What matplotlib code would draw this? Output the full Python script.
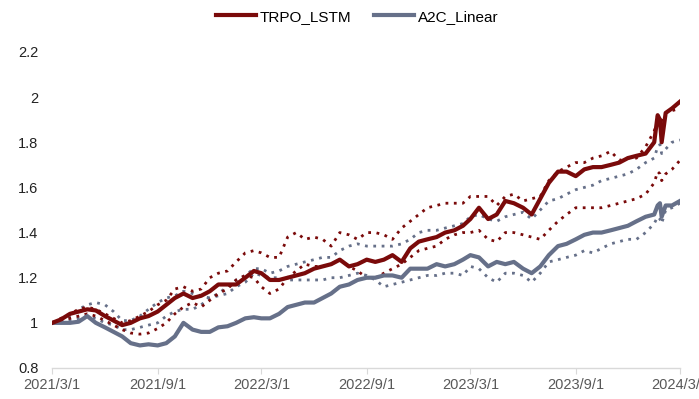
import matplotlib
matplotlib.use("Agg")
import matplotlib.pyplot as plt
import pandas as pd

# ---------------- data ----------------
dates = [
    "2021-03-01", "2021-03-16", "2021-04-01", "2021-04-16", "2021-05-01", "2021-05-16",
    "2021-06-01", "2021-06-16", "2021-07-01", "2021-07-16", "2021-08-01", "2021-08-16",
    "2021-09-01", "2021-09-16", "2021-10-01", "2021-10-16", "2021-11-01", "2021-11-16",
    "2021-12-01", "2021-12-16", "2022-01-01", "2022-01-16", "2022-02-01", "2022-02-16",
    "2022-03-01", "2022-03-16", "2022-04-01", "2022-04-16", "2022-05-01", "2022-05-16",
    "2022-06-01", "2022-06-16", "2022-07-01", "2022-07-16", "2022-08-01", "2022-08-16",
    "2022-09-01", "2022-09-16", "2022-10-01", "2022-10-16", "2022-11-01", "2022-11-16",
    "2022-12-01", "2022-12-16", "2023-01-01", "2023-01-16", "2023-02-01", "2023-02-16",
    "2023-03-01", "2023-03-16", "2023-04-01", "2023-04-16", "2023-05-01", "2023-05-16",
    "2023-06-01", "2023-06-16", "2023-07-01", "2023-07-16", "2023-08-01", "2023-08-16",
    "2023-09-01", "2023-09-16", "2023-10-01", "2023-10-16", "2023-11-01", "2023-11-16",
    "2023-12-01", "2023-12-16", "2024-01-01", "2024-01-16",
    "2024-01-22", "2024-01-26", "2024-01-29", "2024-02-05", "2024-02-16", "2024-03-01",
]

trpo_main = [
    1.00, 1.015, 1.04, 1.05, 1.06, 1.055, 1.03, 1.01, 0.99, 1.00,
    1.02, 1.03, 1.05, 1.08, 1.11, 1.13, 1.11, 1.12, 1.14, 1.17,
    1.17, 1.17, 1.20, 1.23, 1.22, 1.19, 1.19, 1.20, 1.21, 1.22,
    1.24, 1.25, 1.26, 1.28, 1.25, 1.26, 1.28, 1.27, 1.28, 1.30,
    1.27, 1.33, 1.36, 1.37, 1.38, 1.40, 1.41, 1.43, 1.46, 1.51,
    1.46, 1.48, 1.54, 1.53, 1.51, 1.48, 1.55, 1.62, 1.67, 1.67,
    1.65, 1.68, 1.69, 1.69, 1.70, 1.71, 1.73, 1.74, 1.75, 1.80,
    1.92, 1.90, 1.80, 1.93, 1.95, 1.98,
]
trpo_upper = [
    1.00, 1.02, 1.04, 1.06, 1.07, 1.06, 1.04, 1.02, 1.00, 1.01,
    1.03, 1.05, 1.08, 1.10, 1.15, 1.16, 1.14, 1.15, 1.20, 1.22,
    1.23, 1.27, 1.31, 1.32, 1.31, 1.29, 1.29, 1.38, 1.40, 1.37,
    1.38, 1.37, 1.34, 1.40, 1.39, 1.37, 1.40, 1.40, 1.39, 1.37,
    1.42, 1.45, 1.48, 1.51, 1.52, 1.53, 1.53, 1.53, 1.56, 1.56,
    1.56, 1.52, 1.56, 1.57, 1.54, 1.55, 1.56, 1.63, 1.67, 1.69,
    1.71, 1.71, 1.73, 1.74, 1.76, 1.72, 1.73, 1.73, 1.78, 1.85,
    1.90, 1.91, 1.88, 1.93, 1.94, 1.95,
]
trpo_lower = [
    1.00, 1.01, 1.02, 1.03, 1.04, 1.03, 1.01, 0.99, 0.97, 0.955,
    0.95, 0.955, 0.975, 1.00, 1.04, 1.07, 1.09, 1.07, 1.10, 1.13,
    1.15, 1.19, 1.21, 1.20, 1.16, 1.13, 1.15, 1.20, 1.23, 1.26,
    1.25, 1.25, 1.26, 1.28, 1.25, 1.23, 1.20, 1.20, 1.22, 1.24,
    1.26, 1.29, 1.32, 1.33, 1.34, 1.37, 1.39, 1.40, 1.40, 1.41,
    1.37, 1.36, 1.40, 1.40, 1.39, 1.38, 1.37, 1.41, 1.45, 1.48,
    1.51, 1.51, 1.51, 1.51, 1.52, 1.53, 1.54, 1.55, 1.57, 1.62,
    1.67, 1.66, 1.63, 1.66, 1.68, 1.72,
]
a2c_main = [
    1.00, 1.00, 1.00, 1.005, 1.03, 1.00, 0.98, 0.96, 0.94, 0.91,
    0.90, 0.905, 0.90, 0.91, 0.94, 1.00, 0.97, 0.96, 0.96, 0.98,
    0.985, 1.00, 1.02, 1.025, 1.02, 1.02, 1.04, 1.07, 1.08, 1.09,
    1.09, 1.11, 1.13, 1.16, 1.17, 1.19, 1.20, 1.20, 1.21, 1.21,
    1.20, 1.24, 1.24, 1.24, 1.26, 1.25, 1.26, 1.28, 1.30, 1.29,
    1.25, 1.27, 1.26, 1.27, 1.24, 1.22, 1.25, 1.30, 1.34, 1.35,
    1.37, 1.39, 1.40, 1.40, 1.41, 1.42, 1.43, 1.45, 1.47, 1.48,
    1.52, 1.53, 1.47, 1.52, 1.52, 1.54,
]
a2c_upper = [
    1.00, 1.01, 1.03, 1.06, 1.08, 1.09, 1.08, 1.05, 1.01, 1.01,
    1.03, 1.06, 1.09, 1.11, 1.12, 1.14, 1.13, 1.12, 1.11, 1.13,
    1.16, 1.19, 1.21, 1.24, 1.24, 1.22, 1.23, 1.25, 1.26, 1.27,
    1.28, 1.29, 1.29, 1.32, 1.34, 1.35, 1.34, 1.34, 1.34, 1.34,
    1.35, 1.37, 1.40, 1.41, 1.41, 1.42, 1.43, 1.44, 1.47, 1.48,
    1.46, 1.45, 1.47, 1.48, 1.49, 1.46, 1.50, 1.54, 1.55, 1.57,
    1.59, 1.60, 1.61, 1.63, 1.64, 1.65, 1.66, 1.68, 1.71, 1.73,
    1.78, 1.79, 1.75, 1.77, 1.80, 1.81,
]
a2c_lower = [
    1.00, 1.00, 1.01, 1.02, 1.03, 1.02, 1.00, 0.99, 0.97, 0.97,
    0.98, 0.99, 1.00, 1.03, 1.05, 1.06, 1.06, 1.08, 1.11, 1.12,
    1.13, 1.16, 1.18, 1.22, 1.21, 1.20, 1.20, 1.19, 1.19, 1.19,
    1.19, 1.19, 1.20, 1.20, 1.21, 1.22, 1.21, 1.19, 1.16, 1.17,
    1.18, 1.19, 1.20, 1.21, 1.21, 1.22, 1.22, 1.21, 1.25, 1.24,
    1.20, 1.18, 1.22, 1.22, 1.21, 1.18, 1.22, 1.27, 1.28, 1.29,
    1.30, 1.32, 1.31, 1.33, 1.35, 1.36, 1.37, 1.37, 1.40, 1.44,
    1.47, 1.46, 1.44, 1.50, 1.51, 1.53,
]

tick_dates = ["2021-03-01", "2021-09-01", "2022-03-01", "2022-09-01",
              "2023-03-01", "2023-09-01", "2024-03-01"]
tick_labels = ["2021/3/1", "2021/9/1", "2022/3/1", "2022/9/1",
               "2023/3/1", "2023/9/1", "2024/3/1"]
y_ticks = [0.8, 1.0, 1.2, 1.4, 1.6, 1.8, 2.0, 2.2]
y_labels = ["0.8", "1", "1.2", "1.4", "1.6", "1.8", "2", "2.2"]

# ---------------- style ----------------
plt.rcParams['font.family'] = ['Liberation Sans', 'DejaVu Sans']
RED = "#7a0a0a"
GRAY = "#667089"

x = pd.to_datetime(dates)

fig = plt.figure(figsize=(6.99, 3.99), dpi=100)
ax = fig.add_axes([0.0748, 0.0777, 0.898, 0.792])

dot = (0, (1, 2))
ax.plot(x, a2c_upper, color=GRAY, lw=2.0, linestyle=dot, zorder=2)
ax.plot(x, a2c_lower, color=GRAY, lw=2.0, linestyle=dot, zorder=2)
ax.plot(x, trpo_upper, color=RED, lw=2.0, linestyle=dot, zorder=2)
ax.plot(x, trpo_lower, color=RED, lw=2.0, linestyle=dot, zorder=2)
l2, = ax.plot(x, a2c_main, color=GRAY, lw=3.0, zorder=3, label="A2C_Linear")
l1, = ax.plot(x, trpo_main, color=RED, lw=3.0, zorder=4, label="TRPO_LSTM")

ax.set_ylim(0.8, 2.2)
ax.set_xlim(pd.Timestamp("2021-03-01"), pd.Timestamp("2024-03-01"))
ax.set_yticks(y_ticks)
ax.set_yticklabels(y_labels)
ax.set_xticks(pd.to_datetime(tick_dates))
ax.set_xticklabels(tick_labels)

for s in ["top", "right", "left"]:
    ax.spines[s].set_visible(False)
ax.spines["bottom"].set_color("#d9d9d9")
ax.spines["bottom"].set_linewidth(1.0)
ax.tick_params(axis="y", length=0, labelsize=10.5, labelcolor="#222222", pad=10)
ax.tick_params(axis="x", length=4, color="#d9d9d9", labelsize=10.5,
               labelcolor="#595959", pad=3)

fig.legend(handles=[l1, l2], loc="upper center", bbox_to_anchor=(0.511, 1.01),
           ncol=2, frameon=False, fontsize=11, handlelength=2.6,
           columnspacing=1.5, handletextpad=0.25)

fig.savefig("out.png", dpi=100)
